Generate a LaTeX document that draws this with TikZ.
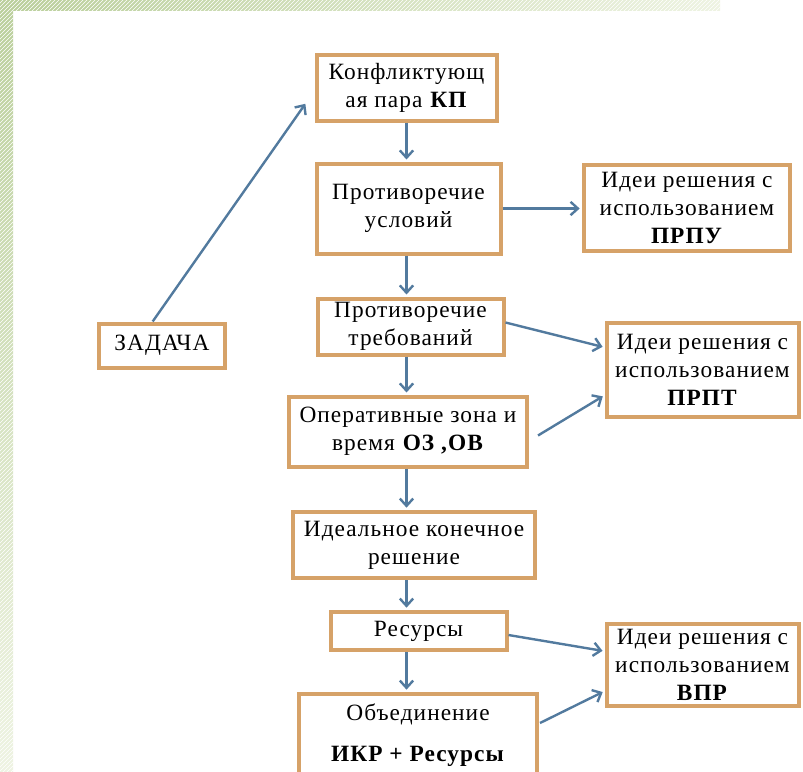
\documentclass[tikz,border=0pt]{standalone}
\usepackage{fontspec}
\setmainfont{Liberation Serif}[LetterSpace=4.5]
\usetikzlibrary{arrows.meta,patterns}

\definecolor{ramka}{RGB}{214,162,104}
\definecolor{strelka}{RGB}{82,122,158}
\definecolor{zelen}{RGB}{186,207,155}
\definecolor{zelensvet}{RGB}{238,243,226}

\begin{document}
\begin{tikzpicture}[x=0.75pt,y=-0.75pt,
    blok/.style={draw=ramka, line width=3pt, fill=white, align=center,
      inner sep=2pt, font=\fontsize{17.5}{21}\selectfont},
    sipka/.style={draw=strelka, line width=1.8pt, shorten >=1.5pt,
      -{Straight Barb[length=5.5pt,width=10pt]}}]

  \useasboundingbox (0,0) rectangle (803,771);
  % pozadí
  \shade[top color=zelen, bottom color=zelensvet] (0,0) rectangle (13,771);
  \shade[left color=zelen, right color=zelensvet] (13,0) rectangle (720,10);
  \fill[pattern=north east lines, pattern color=white] (0,0) rectangle (13,771);
  \fill[pattern=north east lines, pattern color=white] (13,0) rectangle (720,10);

  % bloky
  \node[blok, minimum width=95pt, minimum height=33pt] (zadacha) at (162,345.5) {ЗАДАЧА};
  \node[blok, minimum width=135pt, minimum height=49.5pt] (kp) at (406.5,87.5)
    {Конфликтующ\\ая пара \textbf{КП}};
  \node[blok, minimum width=138pt, minimum height=67.5pt] (uslov) at (408.5,208.5)
    {Противоречие\\условий};
  \node[blok, minimum width=155pt, minimum height=64.5pt] (prpu) at (687,207.5)
    {Идеи решения с\\использованием\\\textbf{ПРПУ}};
  \node[blok, minimum width=139.5pt, minimum height=42pt, inner sep=0pt] (treb) at (410.5,326.5)
    {Противоречие\\требований};
  \node[blok, minimum width=144pt, minimum height=70pt] (prpt) at (702.5,370)
    {Идеи решения с\\использованием\\\textbf{ПРПТ}};
  \node[blok, minimum width=178pt, minimum height=52.5pt] (oz) at (408,431.5)
    {Оперативные зона и\\время \textbf{ОЗ ,ОВ}};
  \node[blok, minimum width=181.5pt, minimum height=50pt] (ikr) at (414,545)
    {Идеальное конечное\\решение};
  \node[blok, minimum width=132pt, minimum height=29pt] (res) at (418.5,631)
    {Ресурсы};
  \node[blok, minimum width=144pt, minimum height=61.5pt] (vpr) at (702.5,664.5)
    {Идеи решения с\\использованием\\\textbf{ВПР}};
  \node[blok, minimum width=178pt, minimum height=62pt] (obj) at (418,735)
    {Объединение\\[10pt]\textbf{ИКР + Ресурсы}};

  % šipky
  \draw[sipka] ([xshift=-7pt]zadacha.north) -- ([xshift=-6pt,yshift=-11pt]kp.west);
  \foreach \a/\b in {kp/uslov, uslov/treb, treb/oz, oz/ikr, ikr/res, res/obj}
    \draw[sipka] (\a.south -| kp) -- (\b.north -| kp);
  \draw[sipka] (uslov.east) -- (prpu.west |- uslov.east);
  \draw[sipka] ([yshift=3pt]treb.east) -- ([yshift=17pt]prpt.west);
  \draw[sipka] ([xshift=7pt,yshift=-3pt]oz.east) -- ([yshift=-19pt]prpt.west);
  \draw[sipka] ([yshift=-3pt]res.east) -- ([yshift=10pt]vpr.west);
  \draw[sipka] ([xshift=1pt,yshift=9pt]obj.east) -- ([yshift=-20pt]vpr.west);

\end{tikzpicture}
\end{document}
